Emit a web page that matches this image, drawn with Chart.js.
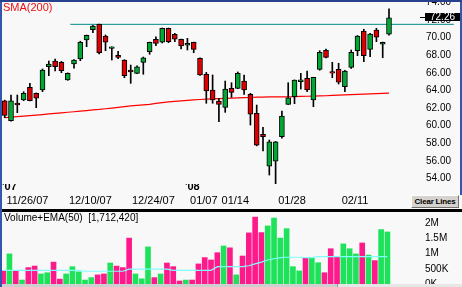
<!DOCTYPE html>
<html>
<head>
<meta charset="utf-8">
<script src="https://cdn.jsdelivr.net/npm/chart.js@4"></script>
<style>
  body { margin: 0; background: #f8f8f8; }
  #wrap { position: relative; width: 462px; height: 287px; overflow: hidden; background: #f8f8f8;
          font-family: "Liberation Sans", Arial, sans-serif; }
  #price { position: absolute; left: 0; top: 0; }
  #vol { position: absolute; left: 0; top: 212px; }
  .topline { position: absolute; left: 0; top: 0; width: 462px; height: 2px; background: #27418f; }
  .leftline { position: absolute; left: 0; top: 0; width: 2px; height: 287px; background: #3556ad; }
  .rightline { position: absolute; left: 460px; top: 0; width: 2px; height: 195px; background: #3556ad; }
  .sep { position: absolute; left: 2px; top: 209px; width: 460px; height: 3px; background: #000; }
  .btn { position: absolute; left: 411px; top: 195px; width: 46px; height: 11px; background: #d6d3ce;
         border-top: 1px solid #fff; border-left: 1px solid #fff; border-right: 1px solid #707070; border-bottom: 1px solid #707070;
         font: bold 8px "Liberation Sans", Arial, sans-serif; letter-spacing: -0.2px; line-height: 11px;
         white-space: nowrap; overflow: hidden; text-align: center; color: #000; }
  .scroll { position: absolute; left: 2px; top: 284px; width: 460px; height: 3px; background: #cfcfcf; }
  .scroll2 { position: absolute; left: 337px; top: 284px; width: 125px; height: 3px; background: #e6e6e6; border-left: 1px solid #999; }
</style>
</head>
<body>
<div id="wrap">
  <div class="leftline"></div>
  <div class="rightline"></div>
  <canvas id="price" width="462" height="208"></canvas>
  <canvas id="vol" width="462" height="72"></canvas>
  <div class="topline"></div>
  <div class="sep"></div>
  <div class="btn">Clear Lines</div>
  <div class="scroll"></div>
  <div class="scroll2"></div>
</div>
<script>
// daily candles 11/20/07 .. 02/20/08
const OPEN = [62.82, 60.56, 62.56, 62.91, 64.36, 63.67, 64.05, 66.70, 67.35, 67.20,
  65.19, 67.01, 67.58, 69.74, 70.91, 71.52, 70.19, 68.78, 68.00, 67.46,
  66.31, 65.95, 67.20, 68.41, 69.82, 69.48, 71.07, 70.39, 69.82, 69.15,
  69.48, 67.66, 65.84, 64.05, 62.80, 62.08, 64.24, 64.24, 65.07, 63.56,
  61.40, 59.01, 55.40, 55.97, 58.74, 62.42, 63.29, 65.01, 65.38, 62.91,
  66.40, 68.57, 66.16, 66.40, 64.43, 66.63, 68.52, 70.76, 68.68, 70.88,
  69.25, 70.39];
const HIGH = [62.90, 63.48, 63.48, 63.86, 64.81, 63.72, 66.44, 67.35, 67.58, 67.30,
  66.00, 67.50, 69.60, 70.30, 71.40, 71.55, 70.31, 68.96, 68.45, 67.50,
  66.89, 66.80, 67.80, 69.50, 70.11, 71.10, 71.10, 70.50, 69.85, 69.93,
  69.50, 67.70, 66.06, 65.76, 63.11, 65.07, 64.88, 66.10, 65.76, 63.67,
  62.34, 59.81, 58.36, 58.20, 61.66, 64.88, 65.20, 65.95, 66.21, 65.50,
  68.52, 68.70, 67.20, 67.09, 66.30, 68.60, 70.25, 70.96, 70.50, 71.07,
  69.50, 73.27];
const LOW = [60.90, 60.50, 61.47, 62.83, 62.80, 62.04, 63.86, 65.68, 66.21, 66.02,
  65.15, 66.52, 67.38, 68.98, 70.57, 68.15, 68.52, 67.46, 67.61, 65.45,
  64.81, 65.90, 65.84, 68.11, 69.09, 69.40, 69.43, 69.55, 68.71, 68.60,
  68.29, 65.70, 62.54, 62.54, 60.44, 61.51, 63.22, 64.20, 63.56, 60.07,
  57.70, 57.11, 54.38, 52.94, 58.56, 62.40, 62.49, 64.16, 63.86, 62.15,
  66.30, 67.70, 65.45, 64.73, 63.86, 66.50, 67.95, 67.27, 67.84, 69.55,
  67.72, 70.30];
const CLOSE = [61.15, 62.83, 62.36, 63.67, 62.83, 63.11, 66.33, 67.01, 66.70, 66.25,
  65.95, 67.46, 69.48, 70.27, 71.33, 68.29, 69.48, 68.96, 67.77, 65.68,
  66.11, 66.70, 67.72, 69.48, 69.36, 71.07, 69.55, 69.82, 69.06, 69.35,
  68.68, 65.76, 63.94, 62.91, 62.42, 64.16, 63.79, 65.95, 64.05, 61.29,
  57.79, 58.74, 58.17, 58.17, 61.09, 63.17, 65.19, 65.21, 64.05, 65.49,
  68.34, 67.77, 65.96, 64.93, 66.21, 68.34, 70.19, 67.95, 70.42, 70.05,
  69.48, 72.26];
const SMA200 = [60.92, 60.97, 61.03, 61.08, 61.14, 61.20, 61.26, 61.33, 61.39, 61.45,
  61.52, 61.58, 61.65, 61.71, 61.78, 61.84, 61.92, 62.00, 62.08, 62.16,
  62.24, 62.30, 62.36, 62.42, 62.52, 62.62, 62.69, 62.75, 62.82, 62.88,
  62.93, 62.97, 63.01, 63.04, 63.07, 63.10, 63.13, 63.16, 63.18, 63.20,
  63.23, 63.25, 63.26, 63.27, 63.27, 63.28, 63.29, 63.32, 63.34, 63.36,
  63.38, 63.40, 63.43, 63.46, 63.49, 63.52, 63.55, 63.58, 63.61, 63.64,
  63.67, 63.70];
const VOLUME = [430000, 990000, 430000, 130000, 540000, 590000, 330000, 370000, 720000, 160000,
  330000, 570000, 400000, 130000, 210000, 300000, 330000, 690000, 590000, 540000,
  1510000, 330000, 170000, 1220000, 210000, 330000, 690000, 570000, 100000, 130000,
  130000, 660000, 870000, 790000, 1030000, 1250000, 1190000, 300000, 920000, 1680000,
  2200000, 1690000, 1910000, 2170000, 1510000, 1820000, 570000, 430000, 850000, 850000,
  700000, 370000, 1160000, 900000, 1320000, 1160000, 990000, 1350000, 950000, 770000,
  1790000, 1712420];
const EMA50 = [450000, 450000, 450000, 450000, 450000, 450000, 450000, 450000, 450000, 450000,
  450000, 450000, 450000, 420000, 420000, 420000, 420000, 420000, 420000, 420000,
  490000, 490000, 490000, 490000, 490000, 490000, 490000, 450000, 450000, 450000,
  450000, 450000, 450000, 450000, 570000, 570000, 570000, 570000, 570000, 600000,
  660000, 720000, 790000, 830000, 870000, 880000, 880000, 880000, 870000, 870000,
  900000, 900000, 900000, 900000, 900000, 900000, 900000, 900000, 900000, 900000,
  900000, 900000];

const DATE_TICKS = [3, 13, 23, 31, 36, 45, 55];
const DATE_LABELS = ['11/26/07', '12/10/07', '12/24/07', '01/07', '01/14', '01/28', '02/11'];
const YEAR_TICKS = [28];
const YEAR_LABELS = ["'07", "'08"];
const VOL_TICKS = [0, 500000, 1000000, 1500000, 2000000];
const VOL_LABELS = ['0K', '500K', '1M', '1.5M', '2M'];
const TREND = { from: 10.4, to: 71.3, level: 71.52 };

const GREEN = '#00a833', RED = '#dd0000';
const VOL_UP = '#1ee35a', VOL_DOWN = '#ff1a8c';
const LABEL_SHIFT = 0.6;
const X_MIN = -0.43, X_MAX = 65.92;

Chart.defaults.font.family = '"Liberation Sans", Arial, sans-serif';
Chart.defaults.color = '#000';

const up = CLOSE.map((c, i) => c >= OPEN[i]);

const noPadX = s => { s.paddingLeft = 0; s.paddingRight = 0; };
const noPadY = s => { s.paddingTop = 0; s.paddingBottom = 0; };

const priceOverlay = {
  id: 'priceOverlay',
  afterDraw(chart) {
    const ctx = chart.ctx;
    const area = chart.chartArea;
    ctx.save();
    ctx.font = '11px "Liberation Sans", Arial, sans-serif';
    ctx.fillStyle = '#e81010';
    ctx.textBaseline = 'top';
    ctx.fillText('SMA(200)', 3, 2);

    const last = CLOSE[CLOSE.length - 1];
    const y = Math.round(chart.scales.y.getPixelForValue(last));
    ctx.fillStyle = '#000';
    ctx.fillRect(area.right, y - 1, 5, 1);
    ctx.fillRect(area.right + 5, y - 5, 35, 8);
    ctx.fillStyle = '#fff';
    ctx.font = '10px "Liberation Sans", Arial, sans-serif';
    ctx.textBaseline = 'middle';
    ctx.fillText(last.toFixed(2), area.right + 10, y - 1);
    ctx.restore();
  }
};

new Chart(document.getElementById('price'), {
  type: 'bar',
  data: {
    datasets: [
      {
        type: 'bar', label: 'body', xAxisID: 'x', yAxisID: 'y',
        data: OPEN.map((o, i) => ({ x: i, y: [o, CLOSE[i]] })),
        backgroundColor: up.map(u => u ? GREEN : RED),
        borderColor: '#000', borderWidth: 1, borderSkipped: false,
        barThickness: 5, grouped: false, order: 0
      },
      {
        type: 'bar', label: 'wick', xAxisID: 'x', yAxisID: 'y',
        data: LOW.map((l, i) => ({ x: i, y: [l, HIGH[i]] })),
        backgroundColor: '#000', barThickness: 1, grouped: false, order: 1
      },
      {
        type: 'line', label: 'trend', xAxisID: 'x', yAxisID: 'y',
        data: [{ x: TREND.from, y: TREND.level }, { x: TREND.to, y: TREND.level }],
        borderColor: '#008b8b', borderWidth: 1, pointRadius: 0, clip: false, order: 2
      },
      {
        type: 'line', label: 'SMA(200)', xAxisID: 'x', yAxisID: 'y',
        data: SMA200.map((v, i) => ({ x: i, y: v })),
        borderColor: '#ff0000', borderWidth: 1.2, pointRadius: 0, order: 3
      }
    ]
  },
  options: {
    responsive: false, animation: false, events: [], devicePixelRatio: 1,
    layout: { padding: { left: 2, top: 2, right: 0, bottom: 0 } },
    plugins: { legend: { display: false }, tooltip: { enabled: false } },
    scales: {
      x: {
        type: 'linear', axis: 'x', position: 'bottom', weight: 0, min: X_MIN, max: X_MAX, offset: false,
        grid: { display: false, drawTicks: false }, border: { display: false },
        afterBuildTicks: s => { s.ticks = [{ value: s.min }].concat(YEAR_TICKS.map(v => ({ value: v + LABEL_SHIFT }))); },
        ticks: { autoSkip: false, maxRotation: 0, align: 'start', padding: -4,
                 font: { size: 11, weight: 'bold' }, callback: (v, i) => YEAR_LABELS[i] },
        afterFit: s => { s.height = 10; noPadX(s); }
      },
      xd: {
        type: 'linear', axis: 'x', position: 'bottom', weight: 1, min: X_MIN, max: X_MAX, offset: false,
        grid: { display: false, drawTicks: false }, border: { display: false },
        afterBuildTicks: s => { s.ticks = DATE_TICKS.map(v => ({ value: v + LABEL_SHIFT })); },
        ticks: { autoSkip: false, maxRotation: 0, padding: 0,
                 font: { size: 11 }, callback: (v, i) => DATE_LABELS[i] },
        afterFit: s => { s.height = 14; noPadX(s); }
      },
      y: {
        position: 'right', min: 53.36, max: 74.06,
        grid: { display: false, drawTicks: false }, border: { display: false },
        ticks: { stepSize: 2, includeBounds: false, autoSkip: false, padding: 6, font: { size: 10 },
                 callback: v => v.toFixed(2) },
        afterFit: s => { s.width = 42; noPadY(s); }
      }
    }
  },
  plugins: [priceOverlay]
});

const volTitle = {
  id: 'volTitle',
  afterDraw(chart) {
    const ctx = chart.ctx;
    ctx.save();
    ctx.font = '10px "Liberation Sans", Arial, sans-serif';
    ctx.fillStyle = '#000';
    ctx.textBaseline = 'top';
    const last = VOLUME[VOLUME.length - 1].toLocaleString('en-US');
    ctx.fillText('Volume+EMA(50)  [' + last + ']', 4, 1);
    ctx.restore();
  }
};

new Chart(document.getElementById('vol'), {
  type: 'bar',
  data: {
    datasets: [
      {
        type: 'line', label: 'EMA(50)', xAxisID: 'x', yAxisID: 'y',
        data: EMA50.map((v, i) => ({ x: i, y: v })),
        borderColor: '#80ffff', borderWidth: 1.2, pointRadius: 0, order: 0
      },
      {
        type: 'bar', label: 'Volume', xAxisID: 'x', yAxisID: 'y',
        data: VOLUME.map((v, i) => ({ x: i, y: v })),
        backgroundColor: up.map(u => u ? VOL_UP : VOL_DOWN),
        barThickness: 5, grouped: false, order: 1
      }
    ]
  },
  options: {
    responsive: false, animation: false, events: [], devicePixelRatio: 1,
    layout: { padding: { left: 2, top: 0, right: 0, bottom: 0 } },
    plugins: { legend: { display: false }, tooltip: { enabled: false } },
    scales: {
      x: { type: 'linear', display: false, min: X_MIN + 0.25, max: X_MAX + 0.25, offset: false },
      y: {
        position: 'right', min: 0, max: 2368000,
        grid: { display: false, drawTicks: false }, border: { display: false },
        afterBuildTicks: s => { s.ticks = VOL_TICKS.map(v => ({ value: v })); },
        ticks: { autoSkip: false, padding: 5, font: { size: 10 }, callback: (v, i) => VOL_LABELS[i] },
        afterFit: s => { s.width = 42; noPadY(s); }
      }
    }
  },
  plugins: [volTitle]
});
</script>
</body>
</html>
